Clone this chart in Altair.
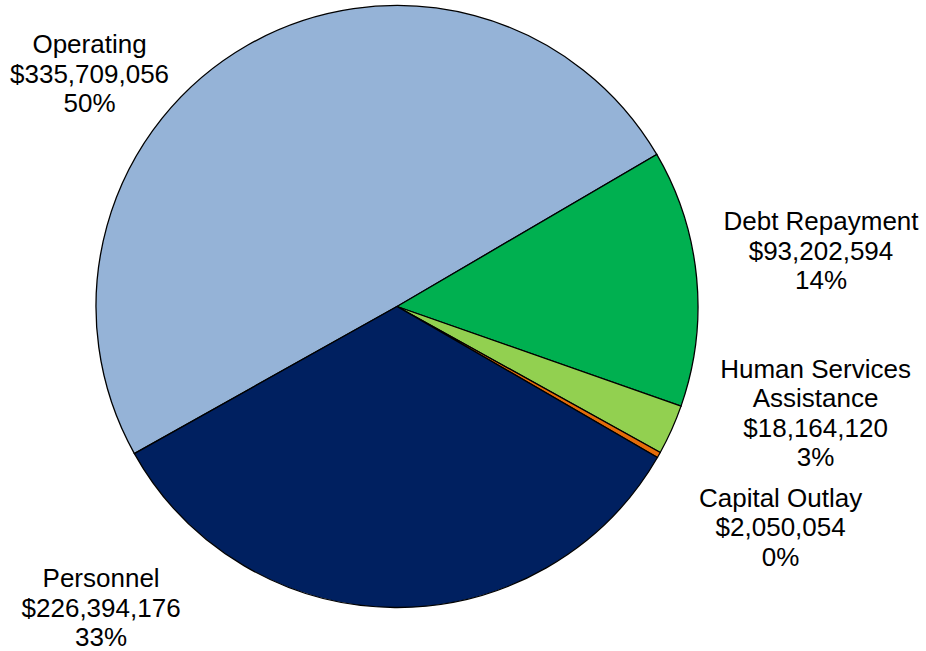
import math
import numpy as np
import pandas as pd
import altair as alt

# ---- data ----
categories = ["Operating", "Debt Repayment", "Human Services\nAssistance", "Capital Outlay", "Personnel"]
values = [335709056, 93202594, 18164120, 2050054, 226394176]
percent_labels = ["50%", "14%", "3%", "0%", "33%"]
colors = ["#95B3D7", "#00B050", "#92D050", "#E46C0A", "#002060"]

# ---- layout / style ----
W, H = 794, 613            # plot area (pie centred in it)
PAD_R, PAD_B = 132, 38     # extra room for labels
OUTER_R = 301
START_DEG = 240.75         # angle where the first slice begins (clockwise from 12 o'clock)
# label placement: nudge from slice mid-angle (deg) and distance from centre (px) of first baseline
label_nudge_deg = [-20.7, -4.7, -14.5, -2.0, 46.1]
label_radius = [398.5, 430.8, 424.6, 432.7, 407.8]
FONT = "Liberation Sans"
FONT_SIZE = 26
LINE_H = 29.5

total = float(sum(values))
order = list(range(len(values)))
df = pd.DataFrame({"category": categories, "value": values, "order": order})

# label positions derived from each slice's middle angle
cum = np.cumsum([0] + values[:-1])
mid_deg = [START_DEG + (c + v / 2.0) / total * 360.0 for c, v in zip(cum, values)]
cx, cy = W / 2.0, H / 2.0
lx, ly, texts = [], [], []
for cat, v, p, m, n, r in zip(categories, values, percent_labels, mid_deg, label_nudge_deg, label_radius):
    a = math.radians(m + n)
    lx.append(cx + r * math.sin(a))
    ly.append(cy - r * math.cos(a))
    texts.append(f"{cat}\n${v:,}\n{p}")
lab = pd.DataFrame({"x": lx, "y": ly, "text": texts})

start = math.radians(START_DEG)
pie = alt.Chart(df).mark_arc(stroke="black", strokeWidth=1.3, outerRadius=OUTER_R).encode(
    theta=alt.Theta("value:Q", stack=True, scale=alt.Scale(range=[start, start + 2 * math.pi])),
    color=alt.Color("category:N", scale=alt.Scale(domain=categories, range=colors), legend=None),
    order=alt.Order("order:Q"),
)

labels = alt.Chart(lab).mark_text(
    font=FONT, fontSize=FONT_SIZE, lineHeight=LINE_H, lineBreak="\n",
    align="center", baseline="alphabetic", color="black",
).encode(
    x=alt.X("x:Q", scale=None),
    y=alt.Y("y:Q", scale=None),
    text="text:N",
)

chart = alt.layer(pie, labels).properties(
    width=W, height=H,
    autosize=alt.AutoSizeParams(type="none"),
    padding={"left": 0, "top": 0, "right": PAD_R, "bottom": PAD_B},
    background="white",
).configure_view(stroke=None)

chart.save("out.html", embed_options={"renderer": "svg", "actions": False})
